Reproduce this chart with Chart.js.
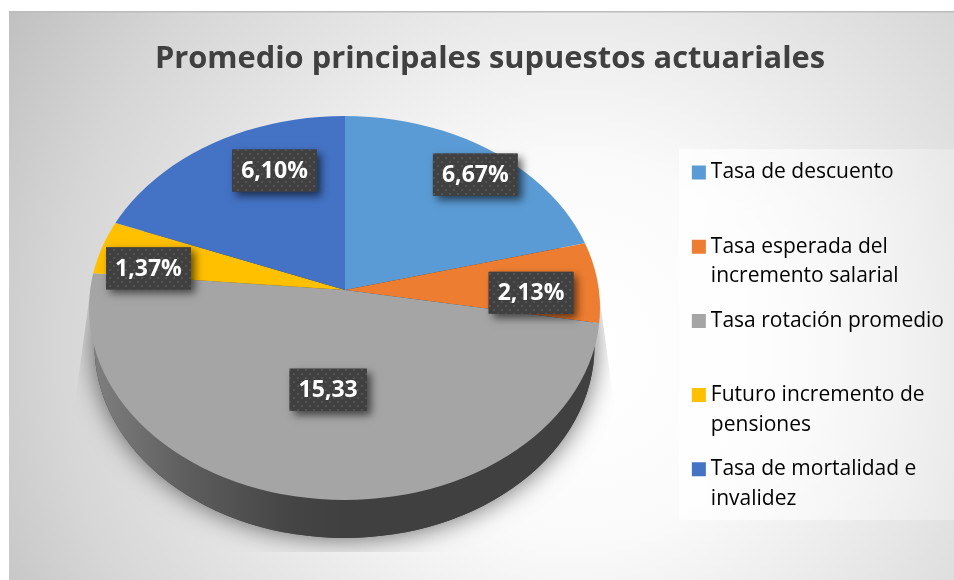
<!DOCTYPE html>
<html><head><meta charset="utf-8">
<style>html,body{margin:0;padding:0;background:#fff}canvas{display:block}</style>
<script src="https://cdn.jsdelivr.net/npm/chart.js@4"></script>
</head><body><div style="width:954px;height:580px"><canvas id="c" width="954" height="580"></canvas></div>
<script>
const titleText = "Promedio principales supuestos actuariales";
const categories = [
  ["Tasa de descuento", ""],
  ["Tasa esperada del", "incremento salarial"],
  ["Tasa rotación promedio", ""],
  ["Futuro incremento de", "pensiones"],
  ["Tasa de mortalidad e", "invalidez"]
];
const values = [6.67, 2.13, 15.33, 1.37, 6.10];
const valueLabels = ["6,67%", "2,13%", "15,33", "1,37%", "6,10%"];
const colors = ["#5B9BD5", "#ED7D31", "#A5A5A5", "#FFC000", "#4472C4"];
// where each data label sits along its slice: fraction of the radius, then nudge in px
const labelFrac = [0.83, 0.73, 0.5, 0.77, 0.65];
const labelNudge = [[0, -1], [0, 7], [0, 13], [-5, 8], [24, -26]];

// perspective look: apex of the slices, rim ellipse of the top face, wall below it
const APEX = { x: 345, y: 290 };
const RIM = { x: 344.5, y: 308, rx: 255.5, ry: 192 };
const WALL = { x: 344.5, y: 346, rx: 250, ry: 192 };
const SCALE_TOP = 0.78, SCALE_BOTTOM = 0.72, LABEL_R = 255, LABEL_FLAT = 0.686;

function dotPattern(ctx) {
  const p = document.createElement('canvas'); p.width = 8; p.height = 8;
  const c = p.getContext('2d');
  c.fillStyle = '#404040'; c.fillRect(0, 0, 8, 8);
  c.fillStyle = '#535353'; c.fillRect(1, 1, 2, 2); c.fillRect(5, 5, 2, 2);
  return ctx.createPattern(p, 'repeat');
}
function rimPath(ctx) {
  ctx.beginPath();
  ctx.ellipse(RIM.x, RIM.y, RIM.rx, RIM.ry, 0, 0, Math.PI * 2);
  ctx.clip();
}
function place(ctx, arc, k) {
  ctx.translate(APEX.x, APEX.y);
  ctx.scale(1, k);
  ctx.translate(-arc.x, -arc.y);
}

const backdrop = {
  id: 'backdrop',
  beforeDraw(chart) {
    const { ctx } = chart;
    ctx.save();
    const g = ctx.createRadialGradient(575, 350, 30, 575, 350, 680);
    g.addColorStop(0, '#ffffff');
    g.addColorStop(0.25, '#fafafa');
    g.addColorStop(0.5, '#e8e8e8');
    g.addColorStop(0.75, '#d6d6d6');
    g.addColorStop(1, '#bdbdbd');
    ctx.fillStyle = g;
    ctx.fillRect(9, 11, 945, 569);
    ctx.fillStyle = '#bcbcbc';
    ctx.fillRect(9, 11, 945, 1.5);
    const lg = ctx.createLinearGradient(679, 0, 954, 0);
    lg.addColorStop(0, 'rgba(255,255,255,0.75)');
    lg.addColorStop(1, 'rgba(255,255,255,0.25)');
    ctx.fillStyle = lg;
    ctx.fillRect(679, 149, 275, 371);
    ctx.restore();
  }
};

const squash = {
  id: 'squash',
  beforeDatasetsDraw(chart) {
    const { ctx } = chart;
    const arc = chart.getDatasetMeta(0).data[0];
    // soft ground shadow, cut to a trapezoid
    ctx.save();
    ctx.beginPath();
    ctx.moveTo(89, 300);
    ctx.lineTo(72, 425);
    ctx.lineTo(72, 552);
    ctx.lineTo(616, 552);
    ctx.lineTo(616, 420);
    ctx.lineTo(600, 300);
    ctx.closePath();
    ctx.clip();
    ctx.shadowColor = 'rgba(0,0,0,0.6)';
    ctx.shadowBlur = 26;
    ctx.fillStyle = '#404040';
    ctx.beginPath();
    ctx.ellipse(WALL.x, WALL.y, WALL.rx, WALL.ry, 0, 0, Math.PI * 2);
    ctx.fill();
    ctx.restore();
    // side wall
    ctx.save();
    const w = ctx.createLinearGradient(90, 0, 345, 0);
    w.addColorStop(0, '#808080');
    w.addColorStop(0.4, '#5c5c5c');
    w.addColorStop(0.8, '#444444');
    w.addColorStop(1, '#404040');
    ctx.fillStyle = w;
    ctx.beginPath();
    ctx.ellipse(WALL.x, WALL.y, WALL.rx, WALL.ry, 0, 0, Math.PI * 2);
    ctx.fill();
    ctx.restore();
    // top half of the face
    ctx.save();
    rimPath(ctx);
    ctx.beginPath();
    ctx.rect(0, 0, 954, APEX.y);
    ctx.clip();
    place(ctx, arc, SCALE_TOP);
  },
  afterDatasetsDraw(chart) {
    const { ctx } = chart;
    ctx.restore();
    const meta = chart.getDatasetMeta(0);
    // bottom half of the face
    ctx.save();
    rimPath(ctx);
    ctx.beginPath();
    ctx.rect(0, APEX.y, 954, 290);
    ctx.clip();
    place(ctx, meta.data[0], SCALE_BOTTOM);
    meta.data.forEach(a => a.draw(ctx));
    ctx.restore();
    // data labels
    const pattern = dotPattern(ctx);
    ctx.save();
    ctx.font = 'bold 23px "Open Sans"';
    ctx.textAlign = 'center';
    ctx.textBaseline = 'middle';
    meta.data.forEach((a, i) => {
      const mid = (a.startAngle + a.endAngle) / 2;
      const x = APEX.x + Math.cos(mid) * LABEL_R * labelFrac[i] + labelNudge[i][0];
      const y = APEX.y + Math.sin(mid) * LABEL_R * labelFrac[i] * LABEL_FLAT + labelNudge[i][1];
      const bw = ctx.measureText(valueLabels[i]).width + 18, bh = 42;
      ctx.save();
      ctx.shadowColor = 'rgba(0,0,0,0.6)';
      ctx.shadowBlur = 8;
      ctx.shadowOffsetX = 4;
      ctx.shadowOffsetY = 4;
      ctx.fillStyle = '#404040';
      ctx.fillRect(x - bw / 2, y - bh / 2, bw, bh);
      ctx.restore();
      ctx.fillStyle = pattern;
      ctx.fillRect(x - bw / 2, y - bh / 2, bw, bh);
      ctx.fillStyle = '#ffffff';
      ctx.fillText(valueLabels[i], x, y + 1);
    });
    ctx.restore();
  }
};

new Chart(document.getElementById('c'), {
  type: 'pie',
  data: {
    labels: categories,
    datasets: [{
      data: values,
      backgroundColor: colors,
      borderWidth: 0,
      radius: 300,
      clip: false
    }]
  },
  options: {
    responsive: false,
    animation: false,
    events: [],
    layout: { padding: { left: 26, right: 0, top: 41, bottom: 40 } },
    plugins: {
      tooltip: { enabled: false },
      title: {
        display: true,
        text: titleText,
        color: '#404040',
        font: { family: '"Open Sans"', size: 30.8, weight: 'bold' },
        padding: { top: 0, bottom: 69 }
      },
      legend: {
        position: 'right',
        align: 'start',
        fullSize: false,
        labels: {
          color: '#404040',
          font: { family: '"Open Sans"', size: 21, lineHeight: 1.41 },
          boxWidth: 3,
          boxHeight: 3,
          padding: 15,
          generateLabels(chart) {
            return chart.data.labels.map((t, i) => ({
              text: t, fillStyle: colors[i], strokeStyle: colors[i],
              lineWidth: 11, index: i, hidden: false
            }));
          }
        }
      }
    }
  },
  plugins: [backdrop, squash]
});
</script></body></html>
